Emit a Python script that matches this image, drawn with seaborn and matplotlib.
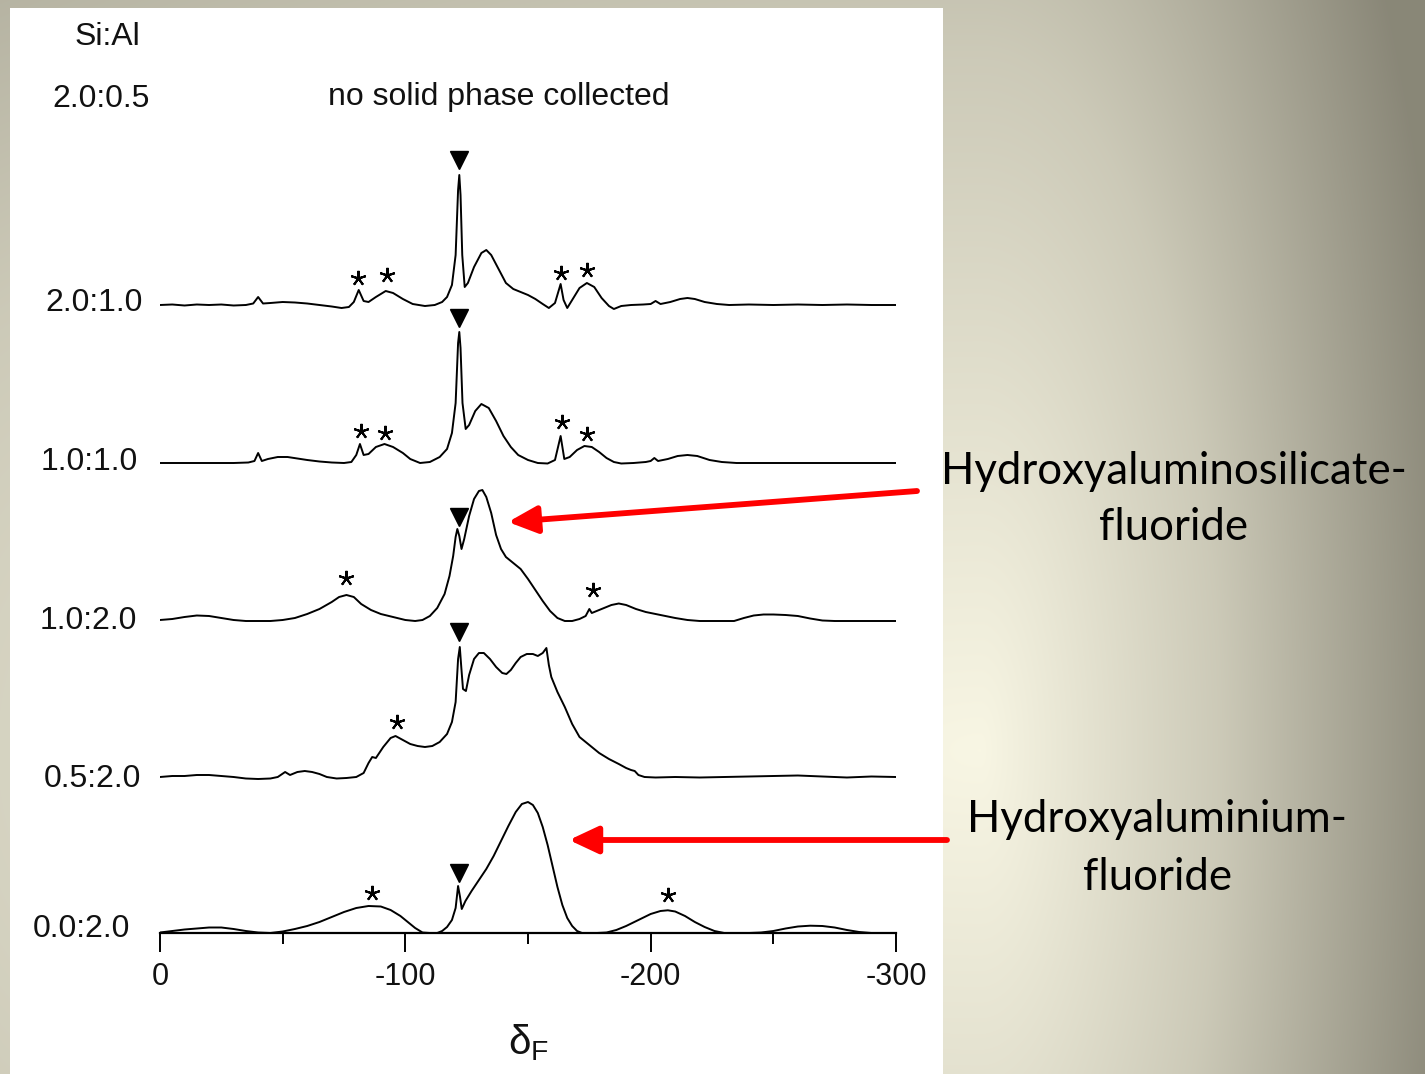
import numpy as np
import matplotlib
matplotlib.use("Agg")
import matplotlib.pyplot as plt
import seaborn as sns
import pandas as pd
from matplotlib.patches import Rectangle, FancyArrowPatch
from matplotlib.ticker import FixedLocator

# ---------------- data ----------------
sample_labels = ["2.0:1.0", "1.0:1.0", "1.0:2.0", "0.5:2.0", "0.0:2.0"]
x_ticks = [0, -100, -200, -300]
x_tick_labels = ["0", "-100", "-200", "-300"]
x_minor_ticks = [-50, -150, -250]

shift_A = [0, -5, -10, -15, -20, -25, -30, -35, -38, -40, -42, -45, -50, -55, -60, -65, -70, -74, -77, -79,
           -81, -83, -85, -88, -92, -95, -99, -103, -108, -112, -115, -117, -119, -120.5, -121.5, -122,
           -122.5, -123.2, -124.2, -125.5, -128, -131, -133, -135, -138, -141, -144, -147, -150, -153,
           -156, -158.5, -161, -163.3, -164.5, -166, -168, -171, -174, -177, -180, -183, -185, -188, -192,
           -197, -200, -202, -204, -208, -212, -215, -218, -222, -227, -232, -240, -250, -260, -270, -280,
           -290, -300]
int_A = [0, 0.5, -0.5, 0.5, 0, 0.5, -0.5, 0, 1.5, 8, 1.5, 2, 3, 2.5, 1.5, 0, -1.5, -3, -2, 3,
         15, 4, 3, 8, 14, 12, 6, 1, -1, 0, 3, 8, 20, 50, 115, 130,
         110, 50, 18, 22, 38, 52, 55, 50, 36, 22, 16, 13, 10, 6,
         1, -3, 2, 21, 5, -3, 5, 17, 22, 18, 7, -1, -4, -1, 0,
         0.5, 1, 4, 1, 3, 6, 7, 6, 3, 1, 0, 0.5, 0, 0.5, 0, 0.5,
         0, 0]

shift_B = [0, -10, -20, -30, -36, -38.5, -40, -41.5, -44, -48, -52, -56, -60, -65, -70, -75, -78, -80,
           -81.5, -83, -85, -88, -91.5, -95, -99, -102, -106, -110, -114, -117, -119, -120.5, -121.5,
           -122, -122.5, -123.3, -124.6, -126, -128.5, -131, -134, -137, -140, -143, -146, -150, -154,
           -158, -161, -163.3, -164.8, -167, -170, -173, -176, -179, -182, -185, -188, -193, -198, -200,
           -201.5, -203, -207, -211, -215, -219, -224, -229, -235, -250, -270, -300]
int_B = [0, 0, 0, 0, 0.5, 2, 10, 2, 4, 6, 6, 4.5, 3, 1.5, 0.5, 0, 1, 8,
         19, 8, 9, 16, 19, 16, 10, 4, 0, 1, 6, 14, 30, 60, 120,
         131, 115, 60, 34, 38, 52, 59, 55, 42, 27, 16, 8, 3, 0,
         -0.5, 3, 27, 4, 6, 13, 17, 16, 11, 5, 1, -0.5, 0, 1, 2,
         5, 2, 4, 7, 8, 7, 3, 1, 0, 0, 0, 0]

shift_C = [0, -5, -10, -15, -20, -25, -30, -35, -40, -45, -50, -55, -60, -65, -70, -73, -76, -79, -82,
           -86, -90, -95, -100, -104, -107, -110, -113, -116, -118, -119.5, -120.5, -121.2, -122, -122.9,
           -124, -126, -128, -130, -131.4, -133, -135, -137, -139, -141, -144, -147, -150, -153, -156,
           -159, -162, -165, -168, -171, -173.5, -175, -176, -178, -181, -184, -187, -190, -194, -198,
           -202, -206, -210, -215, -220, -225, -230, -234, -238, -242, -246, -250, -255, -260, -265,
           -270, -275, -300]
int_C = [1, 2, 4, 5.5, 5, 3, 1, 0, 0, 0, 1, 3, 7, 12, 19, 24, 26, 24, 17,
         11, 7, 4, 1, 0, 1, 5, 13, 27, 45, 65, 84, 92, 85, 72,
         82, 105, 122, 130, 131, 124, 108, 86, 72, 64, 58, 52, 42, 31, 20,
         10, 3, 0, 0, 2, 5, 12, 8, 10, 13, 16, 17.5, 16, 12, 9,
         7, 5, 3, 1, 0, 0, 0, 0, 3, 5.5, 6.5, 6.5, 6, 5, 2.5,
         0.5, 0, 0]

shift_D = [0, -5, -10, -15, -20, -25, -30, -35, -40, -45, -48, -51, -53, -56, -59, -62, -65, -68, -72,
           -76, -80, -83, -85, -86.5, -88, -91, -94, -96, -99, -102, -105, -108, -111, -114, -117, -119,
           -120.5, -121.5, -122.2, -122.8, -123.5, -124.7, -126, -128, -130, -132, -134.5, -137, -139.5,
           -141.2, -143, -145, -147, -149.5, -152, -154, -156, -157.5, -158.5, -159.5, -162, -165, -168,
           -171, -175, -179, -183, -187, -190, -192, -193.5, -195, -197.5, -202, -210, -220, -230, -240,
           -250, -260, -270, -280, -290, -300]
int_D = [0, 1, 1, 2, 2, 1, 0, -1.5, -2, -1.5, 0, 5, 2, 5, 6, 5, 3, 0, -1.5,
         -1, 0, 4, 14, 20, 19, 30, 39, 41, 37, 33, 31, 30, 31, 35, 43, 55,
         75, 118, 130, 110, 88, 86, 102, 118, 124, 124, 118, 110, 104,
         103, 107, 114, 120, 123, 123, 121, 124, 129, 112, 100, 85, 70, 53,
         40, 32, 24, 18, 13, 9, 7, 6, 2, 0, -0.5, 0, -0.5, 0, 0.5,
         1, 1.5, 0.5, -0.5, 0.5, 0]

shift_E = [0, -5, -10, -15, -20, -25, -30, -35, -40, -45, -50, -55, -60, -65, -70, -75, -80, -85, -90,
           -94, -98, -101, -104, -107, -110, -113, -115, -117, -119, -120.5, -121.5, -122.3, -123,
           -124.5, -127, -130, -133, -136, -139, -142, -145, -147.5, -150, -152, -154, -156, -158, -160,
           -162, -164, -166, -168, -170, -172, -175, -178, -182, -186, -190, -195, -200, -204, -207,
           -210, -214, -218, -222, -226, -230, -235, -240, -245, -250, -255, -260, -265, -270, -275,
           -280, -285, -290]
int_E = [0.5, 2, 3.5, 4.5, 5.5, 5.5, 4, 2, 0.5, 0, 1.5, 4, 7, 11, 16, 21, 25, 27, 26.5,
         23, 17, 11, 5, 0.5, 0, 0, 2, 6, 13, 25, 47, 36, 24,
         32, 42, 53, 64, 77, 92, 107, 121, 129, 131, 128, 120, 106, 88, 67,
         46, 28, 15, 7, 2, 0, 0, 0, 0.5, 3, 7, 13, 19, 22, 22.7,
         21.5, 17, 11, 6, 2, 0, 0, 0, 0.5, 2, 4.5, 6.5, 7.3, 7, 5.5,
         3, 1, 0]

# reference-peak markers (inverted triangles) and spinning-sideband asterisks
triangle_shift = [-122, -122, -122, -122, -122]
triangle_height = [145, 145, 104, 145, 60]
star_shift = [[-80.7, -92.5, -163.5, -174.1],
              [-81.9, -91.7, -163.9, -174.1],
              [-75.8, -176.5],
              [-96.6],
              [-86.4, -207.1]]
star_height = [[27, 30, 32, 35],
               [32, 30, 41, 29],
               [43, 31],
               [55],
               [40, 38]]

shifts = [shift_A, shift_B, shift_C, shift_D, shift_E]
intens = [int_A, int_B, int_C, int_D, int_E]

# ---------------- layout ----------------
W, H = 1425, 1074
DPI = 100
baselines = [769, 611, 453, 297, 141]   # vertical offsets (pixels from the bottom)

sns.set_style("white")
plt.rcParams["font.family"] = ["Liberation Sans", "DejaVu Sans"]
plt.rcParams["axes.unicode_minus"] = False
plt.rcParams["mathtext.fontset"] = "custom"
plt.rcParams["mathtext.rm"] = "Liberation Sans"
plt.rcParams["mathtext.it"] = "Liberation Sans"

fig = plt.figure(figsize=(W / DPI, H / DPI), dpi=DPI)

# slide background gradient
bg = fig.add_axes([0, 0, 1, 1], zorder=-10)
yy, xx = np.mgrid[0:H, 0:W]
dx = np.where(xx > 980, (xx - 980) / 480.0, (xx - 980) / 2500.0)
dy = (yy - 750) / 1400.0
t = np.clip(np.sqrt(dx ** 2 + dy ** 2), 0, 1)
c0 = np.array([0.973, 0.965, 0.894])
c1 = np.array([0.80, 0.79, 0.72])
c2 = np.array([0.54, 0.53, 0.47])
t3 = t[..., None]
img = np.where(t3 < 0.5, c0 + (c1 - c0) * (t3 / 0.5), c1 + (c2 - c1) * ((t3 - 0.5) / 0.5))
bg.imshow(img, extent=[0, W, H, 0], aspect="auto", interpolation="bilinear")
bg.set_xlim(0, W)
bg.set_ylim(H, 0)
bg.axis("off")

# white figure panel
panel = Rectangle((10 / W, 0), (943 - 10) / W, (H - 8) / H, transform=fig.transFigure,
                  facecolor="white", edgecolor="none", zorder=-5)
fig.add_artist(panel)

# main spectra axes: x from 0 to -300 spans pixels 160..896
ax = fig.add_axes([160 / W, 0, 736 / W, 1], zorder=1)
ax.set_facecolor("none")
ax.set_xlim(0, -300)
ax.set_ylim(0, H)

for s, i, b in zip(shifts, intens, baselines):
    df = pd.DataFrame({"shift": s, "y": np.array(i, dtype=float) + b})
    sns.lineplot(data=df, x="shift", y="y", ax=ax, color="black", lw=1.4,
                 estimator=None, sort=False, legend=False)

for k, b in enumerate(baselines):
    ax.plot([triangle_shift[k]], [b + triangle_height[k]], marker="v", ms=13,
            color="black", ls="none", clip_on=False)
    ax.plot(star_shift[k], [b + h for h in star_height[k]], marker=(5, 2, 0), ms=11,
            mew=1.5, color="black", ls="none", clip_on=False)

for sp in ["top", "left", "right"]:
    ax.spines[sp].set_visible(False)
ax.spines["bottom"].set_position(("data", baselines[-1]))
ax.spines["bottom"].set_linewidth(1.6)
ax.spines["bottom"].set_color("black")
ax.xaxis.set_major_locator(FixedLocator(x_ticks))
ax.set_xticklabels(x_tick_labels)
ax.xaxis.set_minor_locator(FixedLocator(x_minor_ticks))
ax.tick_params(axis="x", which="major", direction="out", length=14, width=1.4,
               color="black", labelsize=22, pad=7, bottom=True, labelcolor="#111111")
ax.tick_params(axis="x", which="minor", direction="out", length=8, width=1.4,
               color="black", bottom=True)
ax.set_yticks([])
ax.set_ylabel("")
ax.set_xlabel(r"$\mathregular{\delta_F}$", fontsize=29, labelpad=22, color="#111111")


def fx(px):
    return px / W


def fy(py):
    return 1 - py / H


txt_kw = dict(fontsize=23, color="#111111", va="center")
fig.text(fx(75), fy(37), "Si:Al", ha="left", **txt_kw)
fig.text(fx(52), fy(99), "2.0:0.5", ha="left", **txt_kw)
fig.text(fx(499), fy(97), "no solid phase collected", ha="center", **txt_kw)
label_pos = [(143, 303), (138, 462), (137, 621), (141, 779), (130, 929)]
for lab, (px, py) in zip(sample_labels, label_pos):
    fig.text(fx(px), fy(py), lab, ha="right", **txt_kw)

# red arrows
for (x0, y0), (x1, y1) in [((917, 491), (508, 522)), ((947, 840), (569, 840))]:
    arr = FancyArrowPatch((fx(x0), fy(y0)), (fx(x1), fy(y1)), transform=fig.transFigure,
                          arrowstyle="-|>,head_length=1.6,head_width=0.75", mutation_scale=11,
                          color="#ff0000", lw=4.2, shrinkA=0, shrinkB=0, zorder=5)
    fig.add_artist(arr)

side_kw = dict(fontsize=31.5, color="black", ha="center", va="center",
               family=["Lato", "DejaVu Sans"])
fig.text(fx(1174), fy(472), "Hydroxyaluminosilicate-", **side_kw)
fig.text(fx(1174), fy(528), "fluoride", **side_kw)
fig.text(fx(1157), fy(820), "Hydroxyaluminium-", **side_kw)
fig.text(fx(1157), fy(877), "fluoride", **side_kw)

fig.savefig("out.png", dpi=DPI)
